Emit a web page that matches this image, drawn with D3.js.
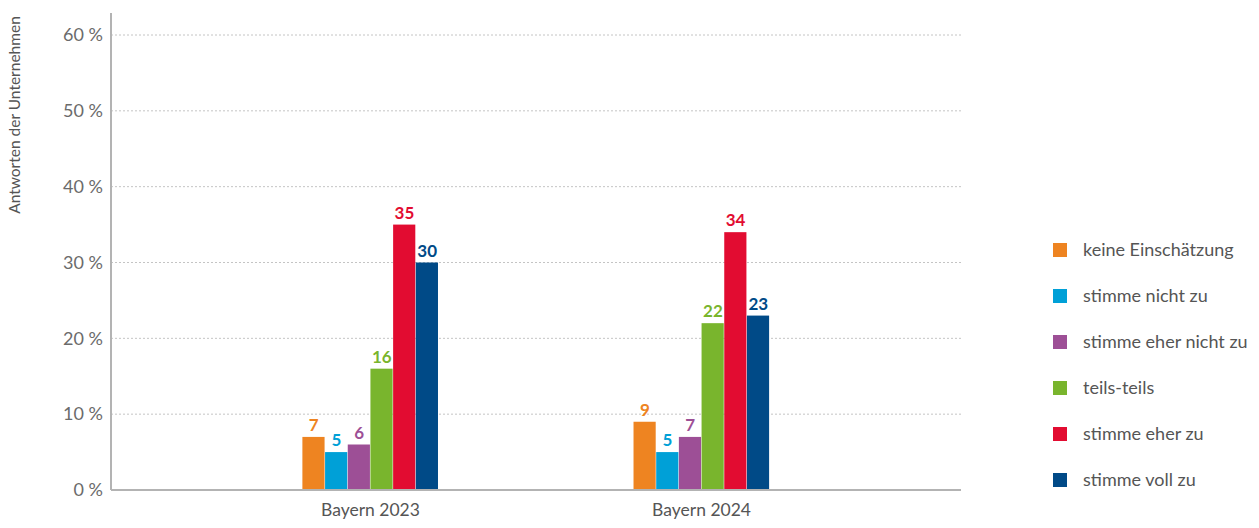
<!DOCTYPE html>
<html lang="de">
  <head>
    <meta charset="utf-8">
    <title>Antworten der Unternehmen</title>
    <script src="https://d3js.org/d3.v7.min.js"></script>
    <style>
      body { margin: 0; background: #fff; }
      text { font-family: Lato, "Open Sans", sans-serif; }
      .yAxis text { font-size: 18px; fill: #6b6b6b; }
      .xAxis text { font-size: 17.5px; fill: #555; }
      .legend text { font-size: 18px; fill: #555; }
    </style>
  </head>
  <body>
    <div id="chart"></div>
    <script>
      // data
      var years = ["Bayern 2023", "Bayern 2024"];
      var answers = ["keine Einschätzung", "stimme nicht zu", "stimme eher nicht zu",
                     "teils-teils", "stimme eher zu", "stimme voll zu"];
      var values2023 = [7, 5, 6, 16, 35, 30];
      var values2024 = [9, 5, 7, 22, 34, 23];
      var yTicks = [0, 10, 20, 30, 40, 50, 60];
      var colors = ["#ee8421", "#00a0d7", "#9d4f96", "#79b52d", "#e20c31", "#004a87"];

      var w = 1259, h = 528;
      var plotLeft = 111, plotRight = 961, plotTop = 13, plotBottom = 490;

      var svg = d3.select("#chart").append("svg")
                  .attr("width", w).attr("height", h);

      var yScale = d3.scaleLinear().domain([0, 60]).range([plotBottom, 35]);

      var x0 = d3.scaleBand().domain(years).range([plotLeft, plotRight])
                 .paddingInner(0.589).paddingOuter(0.578);
      var x1 = d3.scaleBand().domain(answers).range([0, x0.bandwidth()]);

      // grid lines
      svg.append("g").selectAll("line").data(yTicks.slice(1)).enter().append("line")
         .attr("x1", plotLeft).attr("x2", plotRight)
         .attr("y1", d => yScale(d)).attr("y2", d => yScale(d))
         .attr("stroke", "#c4c4c4").attr("stroke-width", 1)
         .attr("stroke-dasharray", "2,2");

      // y axis
      var yAxis = d3.axisLeft(yScale).tickValues(yTicks).tickSize(0).tickPadding(8)
                    .tickFormat(d => d + " %");
      var yg = svg.append("g").attr("class", "yAxis")
                  .attr("transform", `translate(${plotLeft},0)`).call(yAxis);
      yg.select(".domain").remove();
      svg.append("line").attr("x1", plotLeft).attr("x2", plotLeft)
         .attr("y1", plotTop).attr("y2", plotBottom)
         .attr("stroke", "#b3b3b3").attr("stroke-width", 2);

      svg.append("text")
         .attr("transform", "translate(20, 115) rotate(-90)")
         .attr("text-anchor", "middle")
         .attr("font-size", 15.5).attr("fill", "#555")
         .text("Antworten der Unternehmen");

      // bars
      var data = [values2023, values2024];
      var groups = svg.append("g").selectAll("g").data(data).enter().append("g")
                      .attr("transform", (d, i) => `translate(${x0(years[i])},0)`);

      groups.selectAll("rect").data(d => d).enter().append("rect")
            .attr("x", (d, i) => x1(answers[i]))
            .attr("y", d => yScale(d))
            .attr("width", x1.bandwidth() - 0.5)
            .attr("height", d => plotBottom - yScale(d))
            .attr("fill", (d, i) => colors[i]);

      groups.selectAll("text").data(d => d).enter().append("text")
            .attr("x", (d, i) => x1(answers[i]) + x1.bandwidth() / 2)
            .attr("y", d => yScale(d) - 6)
            .attr("text-anchor", "middle")
            .attr("font-size", 17).attr("font-weight", "bold")
            .attr("fill", (d, i) => colors[i])
            .text(d => d);

      // x axis
      var xAxis = d3.axisBottom(x0).tickSize(0).tickPadding(14);
      var xg = svg.append("g").attr("class", "xAxis")
                  .attr("transform", `translate(0,${plotBottom})`).call(xAxis);
      xg.select(".domain").remove();
      svg.append("line").attr("x1", plotLeft).attr("x2", plotRight)
         .attr("y1", plotBottom).attr("y2", plotBottom)
         .attr("stroke", "#b3b3b3").attr("stroke-width", 2);

      // legend
      var legend = svg.append("g").attr("class", "legend");
      var items = legend.selectAll("g").data(answers).enter().append("g")
                        .attr("transform", (d, i) => `translate(1053, ${250 + 46 * i})`);
      items.append("rect").attr("x", 0).attr("y", -7).attr("width", 14).attr("height", 14)
           .attr("fill", (d, i) => colors[i]);
      items.append("text").attr("x", 30).attr("y", 0).attr("dy", "0.35em").text(d => d);
    </script>
  </body>
</html>
